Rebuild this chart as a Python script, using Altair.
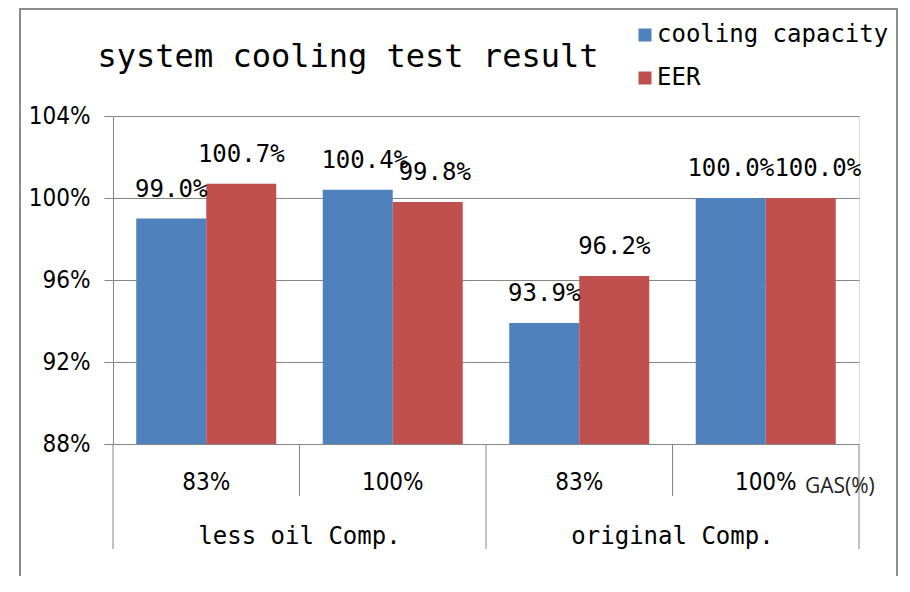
import altair as alt
import pandas as pd

# ---- data ----
groups = ["less oil Comp.", "less oil Comp.", "original Comp.", "original Comp."]
gas = ["83%", "100%", "83%", "100%"]
series = ["cooling capacity", "EER"]
cooling = [0.990, 1.004, 0.939, 1.000]
eer = [1.007, 0.998, 0.962, 1.000]
y_ticks = [0.88, 0.92, 0.96, 1.00, 1.04]
title_text = "system cooling test result"
axis_note = "GAS(%)"
colors = ["#4F81BD", "#C0504D"]

cats = [f"{g} {p}" for g, p in zip(groups, gas)]
rows = []
for i, c in enumerate(cats):
    for s, vals in zip(series, [cooling, eer]):
        rows.append({"cat": c, "group": groups[i], "gas": gas[i], "series": s, "value": vals[i], "idx": i})
df = pd.DataFrame(rows)

MONO = "DejaVu Sans Mono"
NARROW = "Liberation Sans Narrow, DejaVu Sans Condensed, sans-serif"
GRAY = "#868686"

x_enc = alt.X("cat:N", sort=cats, scale=alt.Scale(paddingInner=0, paddingOuter=0), axis=None)
xoff = alt.XOffset("series:N", sort=series, scale=alt.Scale(paddingInner=0, paddingOuter=0.332))
y_enc = alt.Y(
    "value:Q",
    scale=alt.Scale(domain=[0.88, 1.04], nice=False, zero=False),
    axis=alt.Axis(
        values=y_ticks, format=".0%", title=None, grid=True, gridColor=GRAY,
        domainColor=GRAY, tickColor=GRAY, tickSize=9, labelPadding=14,
        labelFont=NARROW, labelFontSize=24, labelColor="black",
    ),
)

base = alt.Chart(df)

bars = base.mark_bar(clip=True).encode(
    x=x_enc,
    xOffset=xoff,
    y=y_enc,
    color=alt.Color(
        "series:N", sort=series,
        scale=alt.Scale(domain=series, range=colors),
        legend=alt.Legend(
            title=None, orient="none", legendX=520, legendY=-93, padding=0,
            symbolType="square", symbolSize=169, symbolStrokeWidth=0,
            labelFont=MONO, labelFontSize=24, labelColor="black",
            labelOffset=0, rowPadding=19, labelLimit=0,
        ),
    ),
)

is_last_eer = (alt.datum.idx == len(cats) - 1) & (alt.datum.series == series[1])
is_second = alt.datum.idx == 1


def value_labels(filt, dx):
    return base.transform_filter(filt).mark_text(
        font=MONO, fontSize=24, dy=-22, dx=dx, baseline="alphabetic", color="black"
    ).encode(
        x=alt.X("cat:N", sort=cats),
        xOffset=alt.XOffset("series:N", sort=series),
        y=alt.Y("value:Q"),
        text=alt.Text("value:Q", format=".1%"),
    )


labels = value_labels(~is_last_eer & ~is_second, 0)
labels_second = value_labels(is_second, 7)
labels_shifted = value_labels(is_last_eer, 17)

gas_labels = base.transform_filter(alt.datum.series == series[0]).mark_text(
    font=NARROW, fontSize=24, baseline="alphabetic", color="black"
).encode(
    x=alt.X("cat:N", sort=cats),
    y=alt.value(374),
    text="gas:N",
)

group_labels = base.transform_filter(
    (alt.datum.series == series[0]) & (alt.datum.gas == "100%")
).mark_text(font=MONO, fontSize=24, baseline="alphabetic", color="black").encode(
    x=alt.X("cat:N", sort=cats, bandPosition=0),
    y=alt.value(428),
    text="group:N",
)

inner_sep = base.transform_filter(
    (alt.datum.series == series[0]) & (alt.datum.gas == "100%")
).mark_rule(color=GRAY, strokeWidth=1).encode(
    x=alt.X("cat:N", sort=cats, bandPosition=0),
    y=alt.value(328), y2=alt.value(380),
)

outer_sep = base.transform_filter(
    (alt.datum.series == series[0]) & (alt.datum.gas == "83%")
).mark_rule(color=GRAY, strokeWidth=1).encode(
    x=alt.X("cat:N", sort=cats, bandPosition=0),
    y=alt.value(328), y2=alt.value(433),
)

end_sep = base.transform_filter(
    (alt.datum.series == series[0]) & (alt.datum.idx == len(cats) - 1)
).mark_rule(color=GRAY, strokeWidth=1).encode(
    x=alt.X("cat:N", sort=cats, bandPosition=1),
    y=alt.value(328), y2=alt.value(433),
)

note_df = pd.DataFrame({"t": [axis_note]})
note = alt.Chart(note_df).mark_text(
    font="Open Sans", fontSize=21, align="left", baseline="alphabetic", color="#222222"
).encode(x=alt.value(692), y=alt.value(377), text="t:N")

title_df = pd.DataFrame({"t": [title_text]})
title = alt.Chart(title_df).mark_text(
    font=MONO, fontSize=32, align="center", baseline="alphabetic", color="black"
).encode(x=alt.value(235), y=alt.value(-49), text="t:N")

border_df = pd.DataFrame({"b": [1]})
border = alt.Chart(border_df).mark_rect(
    fill="transparent", stroke="#8c8c8c", strokeWidth=2
).encode(x=alt.value(-93), x2=alt.value(784), y=alt.value(-107), y2=alt.value(490))

chart = alt.layer(
    border, bars, labels, labels_second, labels_shifted, gas_labels, group_labels,
    inner_sep, outer_sep, end_sep, note, title
).properties(
    width=746, height=328,
    autosize=alt.AutoSizeParams(type="none"),
    padding={"left": 105, "top": 108, "right": 43, "bottom": 132},
).configure_view(strokeWidth=0).configure(background="white")

chart.save("out.html", embed_options={"renderer": "svg", "actions": False})
